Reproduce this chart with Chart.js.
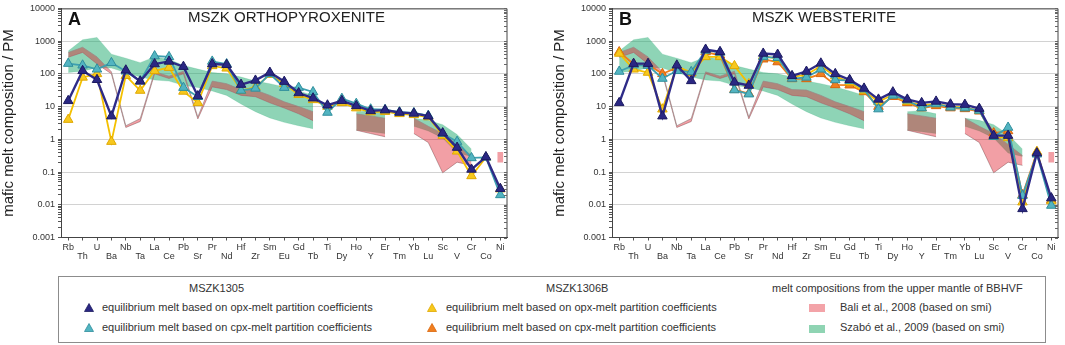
<!DOCTYPE html>
<html><head><meta charset="utf-8">
<script src="https://cdn.jsdelivr.net/npm/chart.js@4.4.1/dist/chart.umd.min.js"></script>
<style>
html,body{margin:0;padding:0;background:#fff;}
body{width:1065px;height:345px;position:relative;overflow:hidden;font-family:"Liberation Sans",Arial,sans-serif;color:#333;}
canvas{position:absolute;top:0;}
#cA{left:0}
#cB{left:551px}
.t{position:absolute;white-space:nowrap;transform-origin:0 0;}
.big{font-weight:bold;font-size:18px;line-height:18px;color:#111;}
.ttl{font-size:15px;line-height:15px;color:#222;}
#legend{position:absolute;left:58px;top:276px;width:986px;height:65px;border:1px solid #8c8c8c;}
.lg{position:absolute;font-size:11px;line-height:12px;white-space:nowrap;color:#333;}
.tri{position:absolute;width:10px;height:9px;}
.sw{position:absolute;width:16px;height:8px;}
</style></head>
<body>
<canvas id="cA" width="514" height="262"></canvas>
<canvas id="cB" width="514" height="262"></canvas>
<div class="t big" style="left:68px;top:10px">A</div>
<div class="t ttl" data-w="197" style="left:188px;top:9px">MSZK ORTHOPYROXENITE</div>
<div class="t big" style="left:619px;top:10px">B</div>
<div class="t ttl" data-w="144" style="left:752px;top:9px">MSZK WEBSTERITE</div>

<div id="legend"></div>
<div class="lg" style="left:189px;top:282px">MSZK1305</div>
<div class="lg" style="left:546px;top:282px">MSZK1306B</div>
<div class="lg" style="left:772px;top:282px">melt compositions from the upper mantle of BBHVF</div>
<svg class="tri" style="left:84px;top:303px" viewBox="0 0 10 9"><polygon points="5,0.5 9.5,8.5 0.5,8.5" fill="#2a2783" stroke="#1c1a60" stroke-width="0.8"/></svg>
<div class="lg" style="left:102px;top:301px">equilibrium melt based on opx-melt partition coefficients</div>
<svg class="tri" style="left:84px;top:323px" viewBox="0 0 10 9"><polygon points="5,0.5 9.5,8.5 0.5,8.5" fill="#52b4c1" stroke="#2f8e9c" stroke-width="0.8"/></svg>
<div class="lg" style="left:102px;top:321px">equilibrium melt based on cpx-melt partition coefficients</div>
<svg class="tri" style="left:427px;top:303px" viewBox="0 0 10 9"><polygon points="5,0.5 9.5,8.5 0.5,8.5" fill="#f7c81d" stroke="#e0a800" stroke-width="0.8"/></svg>
<div class="lg" style="left:446px;top:301px">equilibrium melt based on opx-melt partition coefficients</div>
<svg class="tri" style="left:427px;top:323px" viewBox="0 0 10 9"><polygon points="5,0.5 9.5,8.5 0.5,8.5" fill="#f07f20" stroke="#d9650a" stroke-width="0.8"/></svg>
<div class="lg" style="left:446px;top:321px">equilibrium melt based on cpx-melt partition coefficients</div>
<div class="sw" style="left:809px;top:304px;background:#f3a3a8"></div>
<div class="lg" style="left:840px;top:301px">Bali et al., 2008 (based on smi)</div>
<div class="sw" style="left:809px;top:325px;background:#8fd4b3"></div>
<div class="lg" style="left:840px;top:321px">Szabó et al., 2009 (based on smi)</div>

<script>
// ---------- data ----------
const categories = ['Rb','Th','U','Ba','Nb','Ta','La','Ce','Pb','Sr','Pr','Nd','Hf','Zr','Sm','Eu','Gd','Tb','Ti','Dy','Ho','Y','Er','Tm','Yb','Lu','Sc','V','Cr','Co','Ni'];
const yTickLabels = ['0.001','0.01','0.1','1','10','100','1000','10000'];

// Panel A – MSZK orthopyroxenite
const aOpx1305  = [15,124,66,5.1,129,59,200,240,166,21,200,190,47,63,110,58,26,18,11,15,10.5,7.4,7.8,6.6,6.2,5.1,1.55,0.56,0.12,0.29,0.031];
const aCpx1305  = [206,183,138,217,120,60,350,330,38,20,240,200,31,36,100,38,38,28,6.6,17.5,12.3,8.3,8,6.8,6.4,5.3,1.5,0.85,0.27,0.28,0.02];
const aOpx1306B = [4.0,78,100,0.85,88,31,124,155,29,13,175,148,31,39,95,50,23,16,10,13,9,6.8,7,6,5.6,4.8,1.3,0.43,0.076,0.28,0.03];

// Panel B – MSZK websterite
const bOpx1305  = [13,205,205,5.1,183,61,556,473,55,44,420,390,87,118,210,100,66,36,16.6,27.6,16.6,13,14.4,11.8,11.5,8.7,1.3,1.3,0.0075,0.38,0.016];
const bCpx1305  = [118,185,180,72,124,115,520,450,32,24,330,310,72,78,138,65,62,34,8.4,22,15.6,9.1,12,9.5,9.0,7.6,1.2,2.3,0.019,0.35,0.0095];
const bOpx1306B = [420,138,110,8.3,170,110,330,330,175,49,350,290,80,95,170,85,55,30,14,23,14,11,12,10,9.5,7.5,1.2,1.1,0.012,0.42,0.013];
const bCpx1306B = [465,200,190,100,155,105,465,370,33,25,280,230,70,70,100,46,45,28,10,20,13,9,10.5,9,8.5,7.2,1.55,1.8,0.02,0.4,0.014];

// Melt compositions from the upper mantle of BBHVF (ranges)
const baliUpper  = [450,650,330,115,2.6,4.3,115,85,120,4.8,60,50,33,32,22,14,10,7,null,null,6,5.2,4.4,null,4.4,2.5,1.5,0.7,0.32,null,null];
const baliLower  = [320,450,200,100,2.3,3.5,100,72,100,4.2,40,33,22,20,13,9,6,3.7,null,null,1.9,1.5,1.2,null,1.5,0.8,0.095,0.2,0.16,null,null];
const baliNi     = [0.2,0.4];
const szaboUpper = [500,1100,1300,400,300,220,330,280,180,140,110,100,80,60,50,40,30,22,null,null,7,7.5,6,null,4.4,3.8,2.8,1.4,0.5,null,null];
const szaboLower = [110,120,155,150,110,80,65,60,45,38,30,22,12,7,4.5,3.3,2.6,2.1,null,null,1.9,1.7,1.5,null,2.5,1.8,1.1,0.38,0.3,null,null];

// ---------- helpers ----------
const FONT = 'Liberation Sans';
function segments(up, lo){
  const segs=[]; let cur=null;
  for(let i=0;i<up.length;i++){
    if(up[i]!=null){
      if(!cur){cur={u:new Array(up.length).fill(null),l:new Array(up.length).fill(null)};segs.push(cur);}
      cur.u[i]=up[i]; cur.l[i]=lo[i];
    } else cur=null;
  }
  return segs;
}
function bands(up, lo, fillColor, lineColor, lw, order){
  const out=[];
  segments(up,lo).forEach(s=>{
    out.push({data:s.u, fill:'+1', backgroundColor:fillColor, borderColor:lineColor, borderWidth:lw, pointRadius:0, order, tension:0});
    out.push({data:s.l, fill:false, borderColor:lineColor, borderWidth:lw, pointRadius:0, order, tension:0});
  });
  return out;
}
function series(data, line, fill, border, width, order){
  return {data, borderColor:line, backgroundColor:fill, pointBackgroundColor:fill, pointBorderColor:border,
    pointBorderWidth:1, pointStyle:'triangle', pointRadius:5.5, borderWidth:width, fill:false, order, tension:0};
}
const isDecade = v => Math.abs(Math.log10(v) - Math.round(Math.log10(v))) < 1e-6;

const frame = {id:'frame', afterDraw(chart){
  const {ctx, chartArea:a} = chart; const y = chart.scales.y;
  ctx.save(); ctx.strokeStyle='#444'; ctx.lineWidth=1;
  ctx.beginPath(); ctx.moveTo(a.left, a.top+0.5); ctx.lineTo(a.right-0.5, a.top+0.5); ctx.lineTo(a.right-0.5, a.bottom); ctx.stroke();
  ctx.strokeStyle='#666';
  y.ticks.forEach(t=>{ const p=Math.round(y.getPixelForValue(t.value))+0.5;
    ctx.beginPath(); ctx.moveTo(a.right-0.5,p); ctx.lineTo(a.right-3.5,p); ctx.stroke(); });
  ctx.restore();
}};

function makeChart(id, lines){
  const niIdx = categories.indexOf('Ni');
  const datasets = [
    ...lines,
    {type:'bar', data:categories.map((c,i)=> i===niIdx ? baliNi : null), backgroundColor:'rgba(224,23,37,0.41)', barThickness:5, order:9},
    ...bands(baliUpper, baliLower, 'rgba(224,23,37,0.41)', 'rgba(150,135,135,0.85)', 0.8, 10),
    ...bands(szaboUpper, szaboLower, 'rgba(30,170,110,0.5)', 'rgba(30,170,110,0.35)', 0.5, 20)
  ];
  return new Chart(document.getElementById(id), {
    type:'line',
    data:{labels:categories, datasets},
    plugins:[frame],
    options:{
      responsive:false, devicePixelRatio:1, animation:false,
      layout:{padding:{top:5,right:2,left:0,bottom:0}},
      plugins:{legend:{display:false}, tooltip:{enabled:false}},
      spanGaps:false,
      scales:{
        x:{type:'category', offset:true,
          grid:{display:true, drawOnChartArea:false, drawTicks:true, tickLength:3, tickColor:'#555', offset:false},
          border:{color:'#444', width:1},
          ticks:{autoSkip:false, maxRotation:0, minRotation:0, padding:3, color:'#333',
            font:{family:FONT, size:9, lineHeight:1},
            callback:(v,i)=> i%2===0 ? categories[i] : ['', categories[i]]},
          afterFit:s=>{s.height=24.5;}
        },
        y:{type:'logarithmic', min:0.001, max:10000,
          afterBuildTicks:s=>{
            const t=[];
            for(let e=-3;e<=3;e++) for(let m=1;m<=9;m++) t.push({value:+(m*Math.pow(10,e)).toPrecision(6)});
            t.push({value:10000});
            s.ticks=t;
          },
          grid:{color:c=> (c.tick && isDecade(c.tick.value)) ? '#d2d2d2' : 'rgba(0,0,0,0)', tickColor:'#555', tickLength:3, drawTicks:true},
          border:{color:'#444', width:1},
          ticks:{autoSkip:false, padding:3, color:'#333', font:{family:FONT, size:9},
            callback:v=> isDecade(v) ? yTickLabels[Math.round(Math.log10(v))+3] : ''},
          title:{display:true, text:'mafic melt composition / PM', color:'#222', font:{family:FONT, size:15}, padding:{top:0,bottom:0}},
          afterFit:s=>{s.width=61;}
        }
      }
    }
  });
}

const NAVY=['#2e2b88','#2a2783','#1c1a60'], TEAL=['#3d9fb0','#52b4c1','#2f8e9c'], YEL=['#f4c000','#f7c81d','#e0a800'], ORA=['#ef7d1c','#f07f20','#d9650a'];
makeChart('cA', [
  series(aOpx1305, NAVY[0], NAVY[1], NAVY[2], 2.4, 0),
  series(aCpx1305, TEAL[0], TEAL[1], TEAL[2], 1.8, 1),
  series(aOpx1306B, YEL[0], YEL[1], YEL[2], 1.8, 2)
]);
makeChart('cB', [
  series(bOpx1305, NAVY[0], NAVY[1], NAVY[2], 2.4, 0),
  series(bCpx1305, TEAL[0], TEAL[1], TEAL[2], 1.8, 1),
  series(bOpx1306B, YEL[0], YEL[1], YEL[2], 1.8, 2),
  series(bCpx1306B, ORA[0], ORA[1], ORA[2], 1.8, 3)
]);

// fit panel titles to the measured widths of the reference
document.querySelectorAll('[data-w]').forEach(el=>{
  const w = el.getBoundingClientRect().width;
  const target = +el.dataset.w;
  if (w > 0) el.style.transform = 'scaleX(' + (target / w).toFixed(4) + ')';
});
</script>
</body></html>
